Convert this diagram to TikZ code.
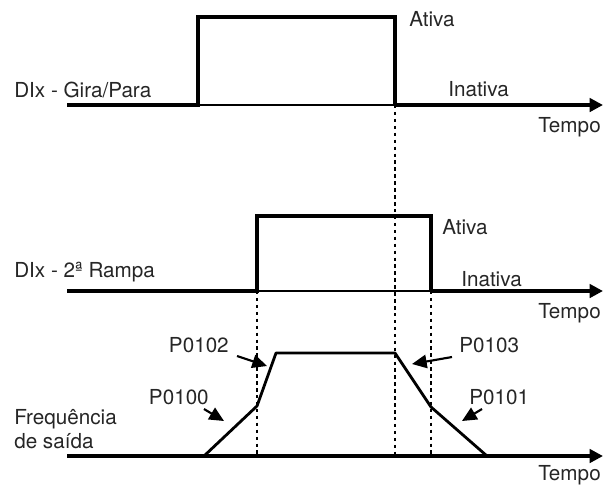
\documentclass[tikz,border=0pt]{standalone}
\usepackage{fontspec}
\setmainfont{TeX Gyre Heros}
\usetikzlibrary{arrows.meta, positioning, calc}
\tikzset{
  axisline/.style={line width=2.9pt, -{Triangle[length=10pt, width=10pt]}},
  pulse/.style={line width=3pt, line join=miter},
  base/.style={line width=1.5pt},
  ramp/.style={line width=2.1pt, line join=round},
  guide/.style={line width=1.3pt, dash pattern=on 2.6pt off 2.6pt},
  pointer/.style={line width=1.6pt, -{Triangle[length=11pt, width=10pt]}},
  lbl/.style={font=\fontsize{15.5}{18.5}\selectfont, text=black!85, inner sep=0pt}
}

\begin{document}
\begin{tikzpicture}[x=0.75pt, y=-0.75pt]
  \useasboundingbox (0,0) rectangle (605,487);

  % Gira/Para
  \coordinate (a0) at (67,105);
  \coordinate (a1) at (198,105);
  \coordinate (a2) at (198,17);
  \coordinate (a3) at (395,17);
  \coordinate (a4) at (395,105);
  \coordinate (a5) at (603,105);
  \draw[base] (a1) -- (a4);
  \draw[pulse] (a0) -- (a1) -- (a2) -- (a3) -- (a4);
  \draw[axisline] (a4) -- (a5);

  % 2a Rampa
  \coordinate (b0) at (67,291);
  \coordinate (b1) at (257,291);
  \coordinate (b2) at (257,216);
  \coordinate (b3) at (431,216);
  \coordinate (b4) at (431,291);
  \coordinate (b5) at (603,291);
  \draw[base] (b1) -- (b4);
  \draw[pulse] (b0) -- (b1) -- (b2) -- (b3) -- (b4);
  \draw[axisline] (b4) -- (b5);

  % frequencia de saida
  \coordinate (c0) at (67,456);
  \coordinate (c1) at (204,456);
  \coordinate (c2) at (257,406);
  \coordinate (c3) at (276,353);
  \coordinate (c4) at (395,353);
  \coordinate (c5) at (431,407);
  \coordinate (c6) at (487,456);
  \coordinate (c7) at (603,456);
  \draw[ramp] (c1) -- (c2) -- (c3) -- (c4) -- (c5) -- (c6);
  \draw[axisline, line width=2.6pt] (c0) -- (c7);

  % guias
  \draw[guide] (a4) -- (a4 |- c0);
  \draw[guide] (b1) -- (b1 |- c0);
  \draw[guide] (b4) -- (b4 |- c0);

  % textos
  \node[lbl, anchor=west] (onA) at (409,19) {Ativa};
  \node[lbl, anchor=west] (diA) at (14,90) {DIx - Gira/Para};
  \node[lbl, anchor=west] (offA) at (448,89) {Inativa};
  \node[lbl, anchor=east] (tA) at (601,127) {Tempo};

  \node[lbl, anchor=west] (onB) at (442,227) {Ativa};
  \node[lbl, anchor=west] (diB) at (14,272) {DIx - 2ª Rampa};
  \node[lbl, anchor=west] (offB) at (461,279) {Inativa};
  \node[lbl, anchor=east] (tB) at (601,313) {Tempo};

  \node[lbl, anchor=west, align=left] (fo) at (14,429) {Frequência\\de saída};
  \node[lbl, anchor=east] (tC) at (601,475) {Tempo};

  \node[lbl, anchor=east] (p102) at (229,345) {P0102};
  \node[lbl, anchor=east] (p100) at (209,397) {P0100};
  \node[lbl, anchor=west] (p103) at (459,345) {P0103};
  \node[lbl, anchor=west] (p101) at (469,397) {P0101};

  \coordinate (p102s) at (237,356);
  \coordinate (p102e) at (267,366);
  \coordinate (p100s) at (204,409);
  \coordinate (p100e) at (224,421);
  \coordinate (p103s) at (452,357);
  \coordinate (p103e) at (412,364);
  \coordinate (p101s) at (482,409);
  \coordinate (p101e) at (462,421);
  \draw[pointer] (p102s) -- (p102e);
  \draw[pointer] (p100s) -- (p100e);
  \draw[pointer] (p103s) -- (p103e);
  \draw[pointer] (p101s) -- (p101e);
\end{tikzpicture}
\end{document}
